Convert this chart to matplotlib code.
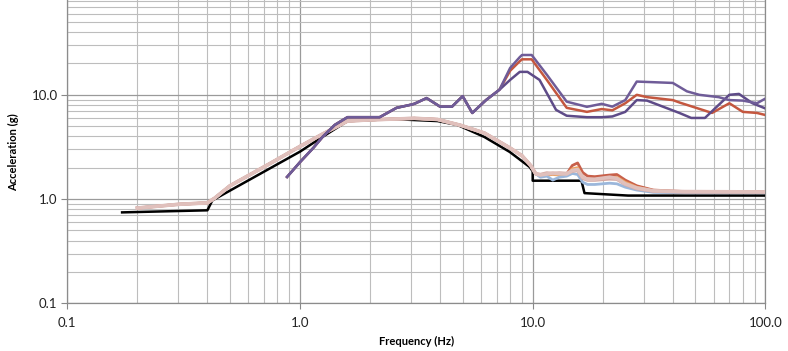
import matplotlib
matplotlib.use("Agg")
import matplotlib.pyplot as plt
from matplotlib.ticker import LogLocator, FuncFormatter, NullFormatter

# Curva requerida (negra)
freq_req = [0.172, 0.40, 0.42, 1.0, 1.25, 1.6, 2.5, 3.9, 4.75, 6.2, 7.97, 9.7, 10.0, 10.0, 16.2, 16.7, 25.7, 100.0]
acc_req = [0.745, 0.78, 0.97, 2.85, 3.95, 5.6, 5.85, 5.6, 5.14, 3.94, 2.83, 2.03, 1.85, 1.50, 1.50, 1.14, 1.08, 1.08]

# Grupo de curvas claras: tramo comun de baja frecuencia
freq_lo = [0.2, 0.3, 0.4, 0.43, 0.5, 0.74, 1.0, 1.25, 1.6, 2.0, 2.5, 3.1, 3.9, 4.9, 6.2, 7.97, 9.0, 9.8, 10.3]
acc_lo = [0.82, 0.89, 0.92, 1.02, 1.34, 2.18, 3.2, 4.2, 5.6, 5.75, 5.85, 5.95, 5.8, 5.1, 4.3, 3.1, 2.6, 2.1, 1.75]

# tramo de alta frecuencia de cada curva clara
freq_hi = [10.8, 11.5, 12.2, 13.0, 14.0, 14.8, 15.6, 16.4, 17.2, 18.5, 21.4, 23.0, 25.0, 28.0, 33.0, 45.0, 100.0]
acc_pink = [1.70, 1.74, 1.78, 1.75, 1.74, 1.88, 1.92, 1.62, 1.55, 1.55, 1.62, 1.58, 1.40, 1.28, 1.20, 1.18, 1.17]
acc_red = [1.68, 1.72, 1.76, 1.72, 1.74, 2.10, 2.22, 1.80, 1.66, 1.64, 1.70, 1.72, 1.52, 1.34, 1.22, 1.18, 1.17]
acc_orange = [1.66, 1.70, 1.72, 1.70, 1.72, 1.95, 2.00, 1.62, 1.55, 1.54, 1.60, 1.62, 1.45, 1.30, 1.20, 1.17, 1.16]
acc_blue = [1.62, 1.66, 1.52, 1.62, 1.66, 1.76, 1.72, 1.45, 1.38, 1.38, 1.42, 1.40, 1.30, 1.22, 1.16, 1.15, 1.15]
acc_beige = [1.72, 1.78, 1.75, 1.78, 1.76, 1.85, 1.88, 1.58, 1.52, 1.52, 1.56, 1.55, 1.38, 1.26, 1.19, 1.17, 1.17]

# Grupo superior: tramo comun
freq_top_lo = [0.88, 1.0, 1.14, 1.25, 1.41, 1.6, 2.2, 2.6, 2.97, 3.1, 3.5, 4.0, 4.5, 5.0, 5.5, 6.3, 7.2]
acc_top_lo = [1.63, 2.26, 3.09, 3.94, 5.14, 6.1, 6.1, 7.5, 8.0, 8.2, 9.3, 7.7, 7.7, 9.7, 6.7, 8.9, 11.2]

freq_p1 = [8.0, 8.8, 9.0, 9.9, 11.5, 14.0, 17.1, 19.8, 22.0, 25.0, 28.0, 40.0, 46.0, 52.0, 63.0, 70.0, 80.0, 92.0, 100.0]
acc_p1 = [18.1, 23.0, 24.1, 24.1, 15.6, 8.6, 7.67, 8.2, 7.7, 8.9, 13.4, 13.0, 10.8, 10.0, 9.5, 8.9, 8.8, 8.3, 9.2]

freq_r = [8.0, 8.8, 9.0, 9.9, 11.5, 14.0, 17.1, 19.8, 22.0, 25.0, 28.0, 31.0, 40.0, 43.0, 59.0, 70.0, 80.0, 92.0, 100.0]
acc_r = [17.0, 21.0, 21.9, 21.9, 13.9, 7.5, 6.86, 7.3, 7.1, 8.3, 10.0, 9.5, 8.9, 8.4, 6.7, 8.3, 6.86, 6.7, 6.4]

freq_p2 = [8.0, 8.8, 9.5, 9.9, 10.7, 12.6, 14.0, 17.1, 19.8, 22.0, 25.0, 28.0, 31.0, 42.7, 48.0, 55.0, 70.0, 77.0, 88.0, 100.0]
acc_p2 = [13.9, 16.6, 16.6, 15.6, 13.9, 7.17, 6.3, 6.1, 6.1, 6.2, 6.86, 8.9, 8.8, 6.7, 6.0, 6.0, 10.0, 10.2, 8.3, 7.4]

plt.rcParams['font.family'] = ['Lato', 'DejaVu Sans']

fig = plt.figure(figsize=(7.88, 3.51), dpi=100)
ax = fig.add_axes([0.0854, 0.1359, 0.9713 - 0.0854, 1 - 0.1359])

ax.set_xscale('log')
ax.set_yscale('log')
ax.set_xlim(0.1, 100)
ax.set_ylim(0.1, 81.2)

# la negra queda debajo del haz claro
ax.plot(freq_req, acc_req, color='black', lw=1.8, zorder=3)

# curvas claras
claras = [
    (acc_red, '#c8604a', 2.0),
    (acc_orange, '#eda15e', 2.0),
    (acc_blue, '#9bb7db', 2.0),
    (acc_beige, '#d6aaa4', 2.4),
    (acc_pink, '#e0c0bc', 2.6),
]
for acc_hi, color, lw in claras:
    ax.plot(freq_lo + freq_hi, acc_lo + acc_hi, color=color, lw=lw, solid_joinstyle='round', zorder=4)

# grupo superior
ax.plot(freq_top_lo + freq_r, acc_top_lo + acc_r, color='#c4573f', lw=1.8, zorder=5)
ax.plot(freq_top_lo + freq_p2, acc_top_lo + acc_p2, color='#5e4b88', lw=1.8, zorder=6)
ax.plot(freq_top_lo + freq_p1, acc_top_lo + acc_p1, color='#6f5c98', lw=1.8, zorder=7)

ax.xaxis.set_major_locator(LogLocator(base=10, numticks=10))
ax.yaxis.set_major_locator(LogLocator(base=10, numticks=10))
ax.xaxis.set_minor_locator(LogLocator(base=10, subs=range(2, 10), numticks=10))
ax.yaxis.set_minor_locator(LogLocator(base=10, subs=range(2, 10), numticks=10))
fmt = FuncFormatter(lambda v, p: f"{v:.1f}")
ax.xaxis.set_major_formatter(fmt)
ax.yaxis.set_major_formatter(fmt)
ax.xaxis.set_minor_formatter(NullFormatter())
ax.yaxis.set_minor_formatter(NullFormatter())

ax.grid(which='major', color='#9a9a9a', lw=0.9)
ax.grid(which='minor', color='#bdbdbd', lw=0.8)
ax.set_axisbelow(True)

ax.tick_params(which='major', length=4, color='#888888', labelsize=9.5, labelcolor='#222222', pad=3)
ax.tick_params(which='minor', length=0)
ax.tick_params(axis='x', pad=6)

ax.spines['top'].set_visible(False)
for s in ['left', 'bottom', 'right']:
    ax.spines[s].set_color('#8c8c8c')
    ax.spines[s].set_linewidth(0.9)

ax.set_xlabel('Frequency (Hz)', fontsize=8, fontweight='bold', labelpad=5)
ax.set_ylabel('Acceleration (g)', fontsize=8, fontweight='bold', labelpad=9)

fig.savefig('out.png', dpi=100)
